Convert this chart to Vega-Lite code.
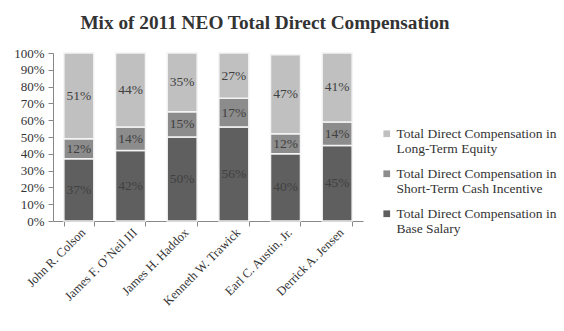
{
  "$schema": "https://vega.github.io/schema/vega-lite/v6.json",
  "autosize": "none",
  "width": 310,
  "height": 168,
  "padding": {"left": 53, "top": 53, "right": 201, "bottom": 110},
  "background": "white",
  "title": {
    "text": "Mix of 2011 NEO Total Direct Compensation",
    "font": "Liberation Serif",
    "fontSize": 19.3,
    "fontWeight": "bold",
    "color": "#333333",
    "anchor": "middle",
    "frame": "group",
    "dx": 57,
    "offset": 14
  },
  "data": {
    "values": [
      {"name": "John R. Colson", "type": "Total Direct Compensation in Base Salary", "o": 1, "v": 37},
      {"name": "John R. Colson", "type": "Total Direct Compensation in Short-Term Cash Incentive", "o": 2, "v": 12},
      {"name": "John R. Colson", "type": "Total Direct Compensation in Long-Term Equity", "o": 3, "v": 51},
      {"name": "James F. O’Neil III", "type": "Total Direct Compensation in Base Salary", "o": 1, "v": 42},
      {"name": "James F. O’Neil III", "type": "Total Direct Compensation in Short-Term Cash Incentive", "o": 2, "v": 14},
      {"name": "James F. O’Neil III", "type": "Total Direct Compensation in Long-Term Equity", "o": 3, "v": 44},
      {"name": "James H. Haddox", "type": "Total Direct Compensation in Base Salary", "o": 1, "v": 50},
      {"name": "James H. Haddox", "type": "Total Direct Compensation in Short-Term Cash Incentive", "o": 2, "v": 15},
      {"name": "James H. Haddox", "type": "Total Direct Compensation in Long-Term Equity", "o": 3, "v": 35},
      {"name": "Kenneth W. Trawick", "type": "Total Direct Compensation in Base Salary", "o": 1, "v": 56},
      {"name": "Kenneth W. Trawick", "type": "Total Direct Compensation in Short-Term Cash Incentive", "o": 2, "v": 17},
      {"name": "Kenneth W. Trawick", "type": "Total Direct Compensation in Long-Term Equity", "o": 3, "v": 27},
      {"name": "Earl C. Austin, Jr.", "type": "Total Direct Compensation in Base Salary", "o": 1, "v": 40},
      {"name": "Earl C. Austin, Jr.", "type": "Total Direct Compensation in Short-Term Cash Incentive", "o": 2, "v": 12},
      {"name": "Earl C. Austin, Jr.", "type": "Total Direct Compensation in Long-Term Equity", "o": 3, "v": 47},
      {"name": "Derrick A. Jensen", "type": "Total Direct Compensation in Base Salary", "o": 1, "v": 45},
      {"name": "Derrick A. Jensen", "type": "Total Direct Compensation in Short-Term Cash Incentive", "o": 2, "v": 14},
      {"name": "Derrick A. Jensen", "type": "Total Direct Compensation in Long-Term Equity", "o": 3, "v": 41}
    ]
  },
  "transform": [
    {"stack": "v", "groupby": ["name"], "sort": [{"field": "o", "order": "ascending"}], "as": ["y0", "y1"]},
    {"calculate": "(datum.y0 + datum.y1) / 2", "as": "mid"},
    {"calculate": "datum.v + '%'", "as": "lbl"}
  ],
  "encoding": {
    "x": {
      "field": "name",
      "type": "nominal",
      "sort": null,
      "scale": {"paddingInner": 0.42, "paddingOuter": 0.21},
      "axis": {
        "title": null,
        "labelAngle": -45,
        "labelAlign": "right",
        "labelBaseline": "middle",
        "labelFont": "Liberation Serif",
        "labelFontSize": 12.5,
        "labelColor": "#333333",
        "labelPadding": 4,
        "labelOffset": 4,
        "tickBand": "extent",
        "tickColor": "#888888",
        "tickSize": 5,
        "domainColor": "#888888"
      }
    }
  },
  "layer": [
    {
      "mark": {"type": "bar", "stroke": "#f4f4f4", "strokeWidth": 1.5},
      "encoding": {
        "y": {
          "field": "y0",
          "type": "quantitative",
          "scale": {"domain": [0, 100], "nice": false},
          "axis": {
            "title": null,
            "values": [0, 10, 20, 30, 40, 50, 60, 70, 80, 90, 100],
            "labelExpr": "datum.value + '%'",
            "labelOverlap": false,
            "labelFont": "Liberation Serif",
            "labelFontSize": 13,
            "labelColor": "#333333",
            "grid": false,
            "tickColor": "#888888",
            "tickSize": 5,
            "domainColor": "#888888",
            "labelPadding": 4
          }
        },
        "y2": {"field": "y1"},
        "color": {
          "field": "type",
          "type": "nominal",
          "scale": {
            "domain": [
              "Total Direct Compensation in Long-Term Equity",
              "Total Direct Compensation in Short-Term Cash Incentive",
              "Total Direct Compensation in Base Salary"
            ],
            "range": ["#c0c0c0", "#8c8c8c", "#5f5f5f"]
          },
          "legend": {
            "title": null,
            "orient": "none",
            "legendX": 327,
            "legendY": 74,
            "symbolType": "square",
            "symbolSize": 45,
            "symbolStrokeWidth": 0,
            "labelFont": "Liberation Serif",
            "labelFontSize": 13.5,
            "labelColor": "#333333",
            "labelLimit": 300,
            "labelExpr": "[slice(datum.label, 0, 28), slice(datum.label, 29)]",
            "rowPadding": 10,
            "labelOffset": 3
          }
        }
      }
    },
    {
      "mark": {"type": "text", "font": "Liberation Serif", "fontSize": 13.5, "color": "#404040", "baseline": "middle"},
      "encoding": {
        "y": {
          "field": "mid",
          "type": "quantitative",
          "scale": {"domain": [0, 100], "nice": false},
          "axis": {
            "title": null,
            "values": [0, 10, 20, 30, 40, 50, 60, 70, 80, 90, 100],
            "labelExpr": "datum.value + '%'",
            "labelOverlap": false,
            "labelFont": "Liberation Serif",
            "labelFontSize": 13,
            "labelColor": "#333333",
            "grid": false,
            "tickColor": "#888888",
            "tickSize": 5,
            "domainColor": "#888888",
            "labelPadding": 4
          }
        },
        "text": {"field": "lbl", "type": "nominal"}
      }
    }
  ],
  "resolve": {"scale": {"y": "shared"}},
  "config": {"view": {"stroke": null}}
}
